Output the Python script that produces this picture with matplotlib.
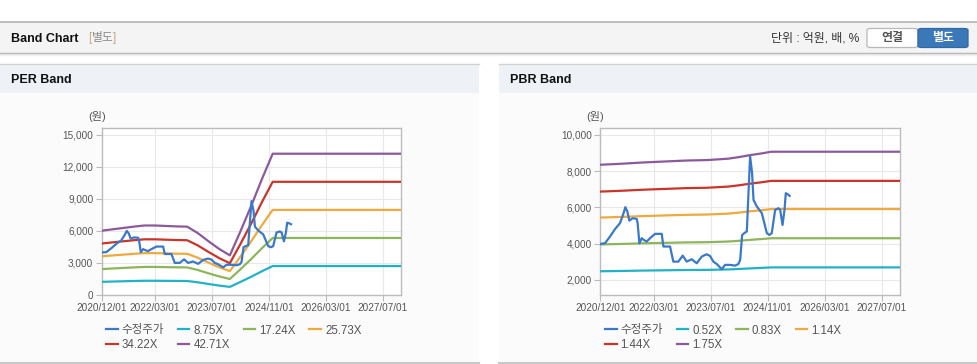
import matplotlib
matplotlib.use("Agg")
import matplotlib.pyplot as plt
import matplotlib.dates as mdates
from matplotlib.patches import Rectangle, FancyBboxPatch
from matplotlib.lines import Line2D
from matplotlib.font_manager import FontProperties
import pandas as pd

FAM = ['Liberation Sans', 'Noto Sans CJK KR']
plt.rcParams['font.family'] = FAM

# ---------------- data ----------------
price_dates = ['2020-12-01', '2021-01-10', '2021-02-22', '2021-04-05', '2021-05-18', '2021-06-16',
               '2021-07-03', '2021-07-20', '2021-08-06', '2021-09-04', '2021-10-08', '2021-10-16',
               '2021-10-31', '2021-11-20', '2021-12-09', '2022-01-01', '2022-01-30', '2022-03-14',
               '2022-05-10', '2022-05-24', '2022-07-20', '2022-08-17', '2022-09-29', '2022-11-05',
               '2022-12-09', '2023-01-21', '2023-03-05', '2023-04-17', '2023-05-29', '2023-06-27',
               '2023-07-25', '2023-08-23', '2023-10-05', '2023-11-02', '2023-12-15', '2024-01-27',
               '2024-02-24', '2024-03-10', '2024-03-27', '2024-04-21', '2024-05-06', '2024-05-20',
               '2024-06-03', '2024-06-20', '2024-07-02', '2024-07-30', '2024-09-11', '2024-10-24',
               '2024-11-15', '2024-12-05', '2025-01-03', '2025-01-31', '2025-02-15', '2025-03-07',
               '2025-03-24', '2025-04-04', '2025-04-27', '2025-05-06']
price_values = [3986, 4020, 4390, 4795, 5126, 5640,
                6010, 5770, 5270, 5400, 5365, 5126,
                4020, 4300, 4200, 4115, 4300, 4540,
                4540, 3840, 3840, 3010, 3010, 3340,
                3010, 3140, 2920, 3290, 3415, 3320,
                3010, 2880, 2590, 2830, 2830, 2790,
                2880, 3100, 4480, 4610, 4670, 6780,
                8800, 7885, 6410, 6050, 5680, 4575,
                4480, 4575, 5860, 5950, 5860, 5030,
                5860, 6780, 6690, 6630]

eps_dates = ['2020-12-01', '2021-03-01', '2021-06-01', '2021-09-01', '2021-12-01', '2022-03-01',
             '2022-06-01', '2022-09-01', '2022-12-01', '2023-03-01', '2023-06-01', '2023-09-01',
             '2023-12-01', '2024-03-01', '2024-06-01', '2024-09-01', '2024-12-01', '2027-12-04']
eps_values = [141, 144, 147, 150, 152.5, 152.5,
              151.5, 150.5, 150, 136, 118, 101,
              87, 140, 196, 255, 310, 310]

bps_dates = ['2020-12-01', '2021-06-01', '2021-12-01', '2022-06-01', '2022-12-01', '2023-06-01',
             '2023-12-01', '2024-03-01', '2024-06-01', '2024-09-01', '2024-12-01', '2027-12-04']
bps_values = [4768, 4800, 4840, 4870, 4900, 4915,
              4960, 5010, 5070, 5120, 5178, 5178]

per_multiples = [8.75, 17.24, 25.73, 34.22, 42.71]
pbr_multiples = [0.52, 0.83, 1.14, 1.44, 1.75]
per_labels = ['8.75X', '17.24X', '25.73X', '34.22X', '42.71X']
pbr_labels = ['0.52X', '0.83X', '1.14X', '1.44X', '1.75X']
price_label = '수정주가'

x_ticks = ['2020-12-01', '2022-03-01', '2023-07-01', '2024-11-01', '2026-03-01', '2027-07-01']
x_tick_labels = ['2020/12/01', '2022/03/01', '2023/07/01', '2024/11/01', '2026/03/01', '2027/07/01']
per_yticks = [0, 3000, 6000, 9000, 12000, 15000]
pbr_yticks = [2000, 4000, 6000, 8000, 10000]

band_colors = ['#22b2c6', '#8db55b', '#eea93f', '#c9352b', '#8c5a9b']
price_color = '#3a78c9'

# ---------------- figure ----------------
W, H = 978, 364
fig = plt.figure(figsize=(W / 100, H / 100), dpi=100)
fig.patch.set_facecolor('white')


def rect(x, y, w, h, fc, ec='none', lw=0, z=0):
    r = Rectangle((x / W, 1 - (y + h) / H), w / W, h / H, transform=fig.transFigure,
                  facecolor=fc, edgecolor=ec, linewidth=lw, zorder=z)
    fig.add_artist(r)
    return r


def hline(x0, x1, y, color, lw=1.0):
    fig.add_artist(Line2D([x0 / W, x1 / W], [1 - y / H, 1 - y / H], transform=fig.transFigure,
                          color=color, linewidth=lw))


def ftext(x, y, s, **kw):
    fig.text(x / W, 1 - y / H, s, **kw)


# header
rect(0, 22.5, W, 30, '#f4f4f4')
hline(0, W, 22.3, '#b4b4b4', 1.2)
hline(0, W, 52.8, '#b0b0b0', 1.0)
hline(0, W, 54.0, '#e2e2e2', 1.0)
hline(0, W, 55.0, '#f0f0f0', 1.0)
ftext(11, 38.5, 'Band Chart', fontsize=9, fontweight='bold', color='#111111', va='center')
ftext(88, 38.5, '[', fontsize=8.5, color='#c8a57e', va='center')
ftext(92, 38.5, '별도', fontsize=8.5, color='#8a8a8a', va='center', family=FAM)
ftext(113, 38.5, ']', fontsize=8.5, color='#c8a57e', va='center')
ftext(859, 38.5, '단위 : 억원, 배, %', fontsize=8.6, color='#333333', va='center', ha='right', family=FAM)

b1 = FancyBboxPatch((867 / W, 1 - 47.5 / H), 51 / W, 19 / H, boxstyle='round,pad=0,rounding_size=0.004',
                    transform=fig.transFigure, facecolor='white', edgecolor='#b8b8b8', linewidth=0.9)
fig.add_artist(b1)
b2 = FancyBboxPatch((918 / W, 1 - 47.5 / H), 50 / W, 19 / H, boxstyle='round,pad=0,rounding_size=0.004',
                    transform=fig.transFigure, facecolor='#3a78b8', edgecolor='#2f6aa6', linewidth=0.9)
fig.add_artist(b2)
ftext(892.5, 38.3, '연결', fontsize=8.6, fontweight='bold', color='#555555', va='center', ha='center', family=FAM)
ftext(943, 38.3, '별도', fontsize=8.6, fontweight='bold', color='white', va='center', ha='center', family=FAM)

# panels
for px0, title in [(0, 'PER Band'), (499, 'PBR Band')]:
    rect(px0, 93, 479, 269, '#fbfbfb')
    rect(px0, 64.5, 479, 28, '#eef2f7')
    hline(px0, px0 + 479, 64.2, '#d2d2d2', 1.0)
    hline(px0, px0 + 479, 362.5, '#c8c8c8', 1.5)
    ftext(px0 + 11, 80, title, fontsize=9, fontweight='bold', color='#111111', va='center')

xmin = pd.Timestamp('2020-12-01')
xmax = pd.Timestamp('2027-12-04')
pdates = pd.to_datetime(price_dates)


def make_axes(left_px, ylim, yticks, base_dates, base_values, multiples, labels, legend_left):
    ax = fig.add_axes([left_px / W, (H - 295) / H, 299.5 / W, 167 / H])
    ax.set_facecolor('white')
    bd = pd.to_datetime(base_dates)
    handles = []
    for m, lab, c in zip(multiples, labels, band_colors):
        h, = ax.plot(bd, [v * m for v in base_values], color=c, lw=1.6, label=lab, zorder=3,
                     solid_joinstyle='round')
        handles.append(h)
    hp, = ax.plot(pdates, price_values, color=price_color, lw=1.6, label=price_label, zorder=4,
                  solid_joinstyle='round')
    ax.set_xlim(xmin, xmax)
    ax.set_ylim(*ylim)
    ax.set_xticks(pd.to_datetime(x_ticks))
    ax.set_xticklabels(x_tick_labels)
    ax.set_yticks(yticks)
    ax.set_yticklabels([f'{v:,}' for v in yticks])
    ax.tick_params(axis='both', labelsize=7.2, colors='#bbbbbb', labelcolor='#555555', length=4, width=0.8,
                   pad=2)
    ax.grid(True, color='#e8e8e8', lw=0.8)
    ax.set_axisbelow(True)
    for s in ax.spines.values():
        s.set_color('#bcbcbc')
        s.set_linewidth(1.0)
    ftext(left_px - 5, 117, '(원)', fontsize=8, color='#555555', ha='center', va='center', family=FAM)
    order = [hp, handles[3], handles[0], handles[4], handles[1], handles[2]]
    leg = fig.legend(handles=order, labels=[h.get_label() for h in order], ncol=4,
                     loc='upper left', bbox_to_anchor=(legend_left / W, 1 - 324.5 / H),
                     frameon=False, prop=FontProperties(family=FAM, size=8.3), handlelength=1.0,
                     handletextpad=0.35, columnspacing=1.2, labelspacing=0.22, borderpad=0,
                     borderaxespad=0)
    for t in leg.get_texts():
        t.set_color('#555555')
    return ax


make_axes(101.7, (0, 15650), per_yticks, eps_dates, eps_values, per_multiples, per_labels, 106)
make_axes(600.3, (1172, 10368), pbr_yticks, bps_dates, bps_values, pbr_multiples, pbr_labels, 605)

fig.savefig('out.png', dpi=100, facecolor='white')
